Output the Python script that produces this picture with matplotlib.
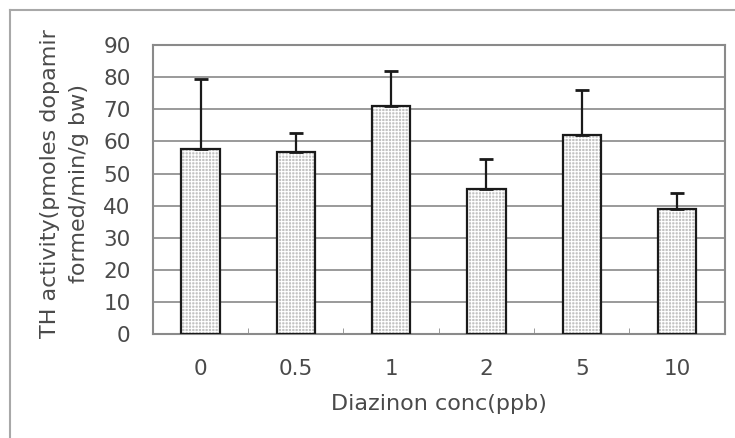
from matplotlib import pyplot as plt
from matplotlib.lines import Line2D
import numpy as np

concs = ["0", "0.5", "1", "2", "5", "10"]
activity = [57.8, 56.6, 71.1, 45.3, 61.9, 38.9]
err_up = [21.6, 6.0, 10.8, 9.3, 14.0, 5.2]

plt.rcParams['font.family'] = ['DejaVu Sans']
plt.rcParams['hatch.linewidth'] = 0.8

fig = plt.figure(figsize=(7.35, 4.38), dpi=100)
ax = fig.add_axes([0.208, 0.237, 0.778, 0.66])

x = np.arange(len(concs))

# dotted grey fill, then black outline on top
ax.bar(x, activity, width=0.4, color="#c2c2c2", edgecolor="white", hatch="+++++", linewidth=0, zorder=2)
ax.bar(x, activity, width=0.4, facecolor="none", edgecolor="#1a1a1a", linewidth=1.6, zorder=3)
ax.errorbar(x, activity, yerr=[np.zeros(len(x)), err_up], fmt="none", ecolor="#1a1a1a",
            elinewidth=1.6, capsize=5, capthick=2, zorder=4)

ax.set_xlim(-0.5, len(concs) - 0.5)
ax.set_ylim(0, 90)
ax.set_yticks(np.arange(0, 91, 10))
ax.set_xticks(x)
ax.set_xticklabels(concs)
ax.set_xticks(np.arange(0.5, len(concs) - 1, 1), minor=True)

ax.yaxis.grid(True, color="#9a9a9a", linewidth=1.4, zorder=0)
ax.set_axisbelow(True)
for s in ax.spines.values():
    s.set_color("#8a8a8a")
    s.set_linewidth(1.5)

ax.tick_params(axis="y", length=0, pad=16, labelsize=15.5, labelcolor="#4a4a4a")
ax.tick_params(axis="x", which="major", length=0, pad=18, labelsize=15.5, labelcolor="#4a4a4a")
ax.tick_params(axis="x", which="minor", direction="in", length=4, color="#8a8a8a")

ax.set_xlabel("Diazinon conc(ppb)", fontsize=16, color="#4a4a4a", labelpad=11)
ax.set_ylabel("TH activity(pmoles dopamir\nformed/min/g bw)", fontsize=16, color="#4a4a4a",
              linespacing=1.55)
ax.yaxis.set_label_coords(-0.112, 0.52)

# outer chart frame (top and left visible)
fig.add_artist(Line2D([0.013, 1.0], [0.977, 0.977], transform=fig.transFigure, color="#a8a8a8", linewidth=1.5))
fig.add_artist(Line2D([0.013, 0.013], [0.0, 0.977], transform=fig.transFigure, color="#a8a8a8", linewidth=1.5))

fig.savefig("out.png", dpi=100)
